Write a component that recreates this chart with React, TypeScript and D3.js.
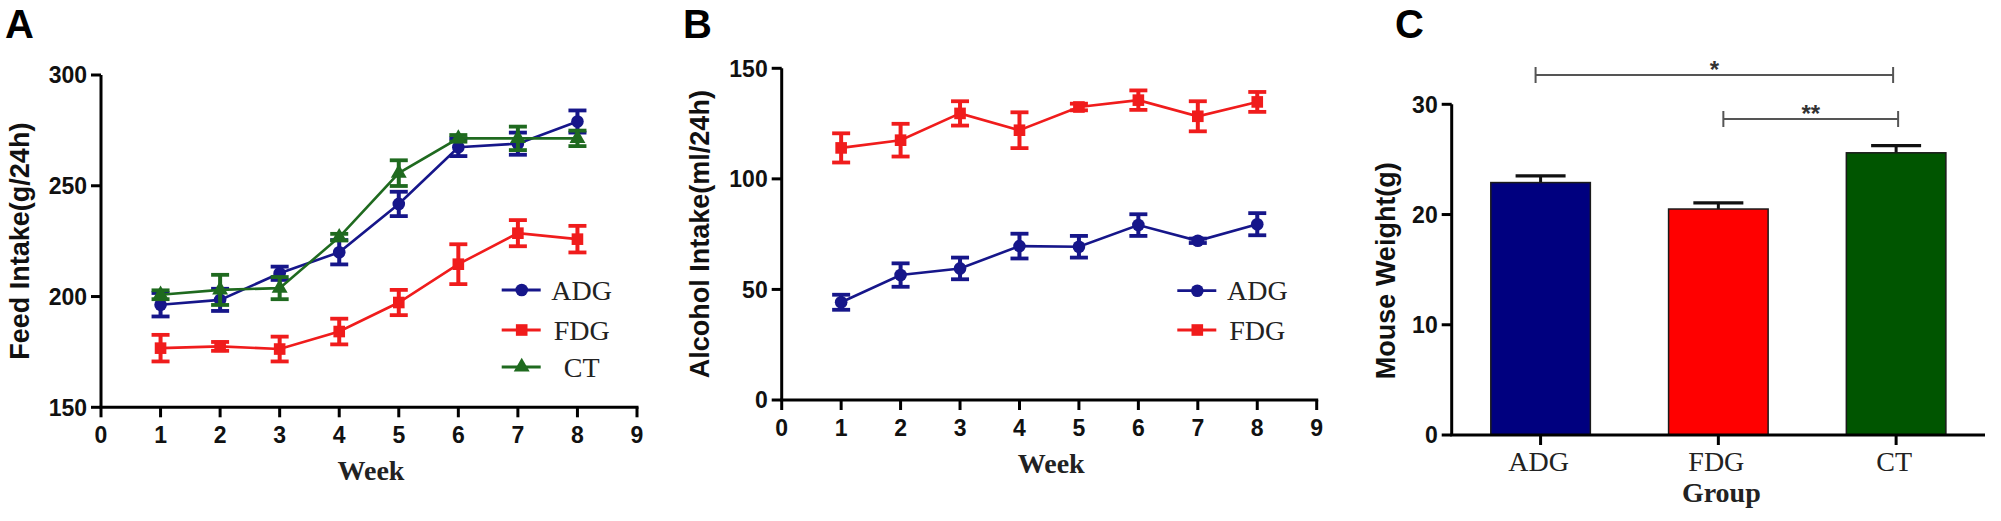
import React from 'react';
import * as d3 from 'd3';

// ---------- data ----------
const weeks = [1, 2, 3, 4, 5, 6, 7, 8];
const weekTicks = [0, 1, 2, 3, 4, 5, 6, 7, 8, 9];

const feedADG = [196.3, 198.5, 210.5, 220, 241.8, 267.4, 269, 279];
const feedADGErr = [5.3, 5, 3, 5.5, 5.5, 4, 5, 5];
const feedFDG = [176.7, 177.5, 176.3, 184.2, 197.3, 214.6, 228.6, 225.9];
const feedFDGErr = [6, 2, 5.6, 5.8, 5.7, 9, 5.9, 6];
const feedCT = [200.8, 203, 203.8, 226.8, 255.7, 271.4, 271.4, 271.4];
const feedCTErr = [2, 6.8, 5, 1.5, 5.8, 1.5, 5.3, 3.5];
const feedTicks = [150, 200, 250, 300];

const alcADG = [44.2, 56.5, 59.5, 69.6, 69.3, 79.1, 72, 79.5];
const alcADGErr = [3.4, 5.3, 4.9, 5.6, 4.9, 4.9, 1, 5];
const alcFDG = [114, 117.5, 129.6, 122, 132.5, 135.6, 128.3, 134.8];
const alcFDGErr = [6.6, 7.4, 5.5, 8.1, 1.5, 4.4, 6.8, 4.5];
const alcTicks = [0, 50, 100, 150];

const groups = ['ADG', 'FDG', 'CT'];
const weightMean = [22.9, 20.5, 25.6];
const weightErr = [0.6, 0.55, 0.65];
const weightTicks = [0, 10, 20, 30];

// ---------- styles ----------
const SANS = 'Liberation Sans, Arial, Helvetica, sans-serif';
const SERIF = 'Liberation Serif, Times New Roman, serif';
const BLUE = '#16168a';
const RED = '#f01c1c';
const GREEN = '#1f6a1f';
const BAR_COLORS = ['#00007f', '#ff0000', '#005500'];

type Shape = 'circle' | 'square' | 'triangle';
type Series = { name: string; values: number[]; errs: number[]; color: string; shape: Shape };

function symbolPath(shape: Shape) {
  const t = shape === 'circle' ? d3.symbolCircle : shape === 'square' ? d3.symbolSquare : d3.symbolTriangle;
  const size = shape === 'circle' ? 125 : shape === 'square' ? 135 : 110;
  return d3.symbol().type(t).size(size)() as string;
}

function LinePanel(props: {
  x0: number; x1: number; yTop: number; yBot: number; domain: [number, number];
  yTicks: number[]; series: Series[]; title: string; letter: string; letterX: number;
  titleX: number; legendX: number; legendY: number[];
}) {
  const { x0, x1, yTop, yBot, domain, yTicks, series, title, letter, letterX, titleX, legendX, legendY } = props;
  const x = d3.scaleLinear().domain([0, 9]).range([x0, x1]);
  const y = d3.scaleLinear().domain(domain).range([yBot, yTop]);
  const line = d3.line<number>().x((_, i) => x(weeks[i])).y((v) => y(v));
  const cap = 9;
  return (
    <g>
      <text x={letterX} y={38} fontFamily={SANS} fontWeight="bold" fontSize={40} fill="#000">{letter}</text>
      <line x1={x0} x2={x0} y1={yTop} y2={yBot} stroke="#000" strokeWidth={3} />
      <line x1={x0 - 1.5} x2={x1 + 1.5} y1={yBot} y2={yBot} stroke="#000" strokeWidth={3} />
      {yTicks.map((t) => (
        <g key={'y' + t}>
          <line x1={x0 - 10} x2={x0} y1={y(t)} y2={y(t)} stroke="#000" strokeWidth={3} />
          <text x={x0 - 14} y={y(t) + 8.3} textAnchor="end" fontFamily={SANS} fontWeight="bold" fontSize={23} fill="#111">{t}</text>
        </g>
      ))}
      {weekTicks.map((t) => (
        <g key={'x' + t}>
          <line x1={x(t)} x2={x(t)} y1={yBot} y2={yBot + 10} stroke="#000" strokeWidth={3} />
          <text x={x(t)} y={yBot + 36} textAnchor="middle" fontFamily={SANS} fontWeight="bold" fontSize={23} fill="#111">{t}</text>
        </g>
      ))}
      <text x={(x0 + x1) / 2 + 2} y={yBot + 73} textAnchor="middle" fontFamily={SERIF} fontWeight="bold" fontSize={28} fill="#222">Week</text>
      <text transform={`translate(${titleX},${(yTop + yBot) / 2}) rotate(-90)`} textAnchor="middle" fontFamily={SANS} fontWeight="bold" fontSize={27} fill="#111">{title}</text>
      {series.map((s) => (
        <g key={s.name}>
          <path d={line(s.values) as string} fill="none" stroke={s.color} strokeWidth={2.6} />
          {s.values.map((v, i) => {
            const cx = x(weeks[i]);
            const hi = y(v + s.errs[i]);
            const lo = y(v - s.errs[i]);
            return (
              <g key={i}>
                <line x1={cx} x2={cx} y1={hi} y2={lo} stroke={s.color} strokeWidth={4} />
                <line x1={cx - cap} x2={cx + cap} y1={hi} y2={hi} stroke={s.color} strokeWidth={3.8} />
                <line x1={cx - cap} x2={cx + cap} y1={lo} y2={lo} stroke={s.color} strokeWidth={3.8} />
                <path d={symbolPath(s.shape)} transform={`translate(${cx},${y(v)})`} fill={s.color} />
              </g>
            );
          })}
        </g>
      ))}
      {series.map((s, i) => (
        <g key={'lg' + s.name}>
          <line x1={legendX - 20} x2={legendX + 19} y1={legendY[i]} y2={legendY[i]} stroke={s.color} strokeWidth={2.8} />
          <path d={symbolPath(s.shape)} transform={`translate(${legendX},${legendY[i]})`} fill={s.color} />
          <text x={legendX + 60} y={legendY[i] + 9.5} textAnchor="middle" fontFamily={SERIF} fontSize={28} fill="#222">{s.name}</text>
        </g>
      ))}
    </g>
  );
}

function BarPanel() {
  const x0 = 1451.7, x1 = 1985, yTop = 104.3, yBot = 435;
  const x = d3.scaleBand<string>().domain(groups).range([x0, x1]).paddingInner(0.44).paddingOuter(0.22);
  const y = d3.scaleLinear().domain([0, 30]).range([yBot, yTop]);
  const bw = x.bandwidth();
  const c = (g: string) => (x(g) as number) + bw / 2;
  return (
    <g>
      <text x={1395} y={38} fontFamily={SANS} fontWeight="bold" fontSize={40} fill="#000">C</text>
      {groups.map((g, i) => {
        const top = y(weightMean[i]);
        const et = y(weightMean[i] + weightErr[i]);
        return (
          <g key={g}>
            <line x1={c(g)} x2={c(g)} y1={top} y2={et} stroke="#111" strokeWidth={3} />
            <line x1={c(g) - 25} x2={c(g) + 25} y1={et} y2={et} stroke="#111" strokeWidth={3.2} />
            <rect x={x(g)} y={top} width={bw} height={yBot - top} fill={BAR_COLORS[i]} stroke="#1a1a1a" strokeWidth={1.5} />
          </g>
        );
      })}
      <line x1={x0} x2={x0} y1={yTop} y2={yBot} stroke="#000" strokeWidth={3} />
      <line x1={x0 - 1.5} x2={x1} y1={yBot} y2={yBot} stroke="#000" strokeWidth={3} />
      {weightTicks.map((t) => (
        <g key={t}>
          <line x1={x0 - 10} x2={x0} y1={y(t)} y2={y(t)} stroke="#000" strokeWidth={3} />
          <text x={x0 - 14} y={y(t) + 8.3} textAnchor="end" fontFamily={SANS} fontWeight="bold" fontSize={23} fill="#111">{t}</text>
        </g>
      ))}
      {groups.map((g) => (
        <g key={'t' + g}>
          <line x1={c(g)} x2={c(g)} y1={yBot} y2={yBot + 10} stroke="#000" strokeWidth={3} />
          <text x={c(g) - 2} y={yBot + 36} textAnchor="middle" fontFamily={SERIF} fontSize={28} fill="#222">{g}</text>
        </g>
      ))}
      <text x={(x0 + x1) / 2 + 3} y={502} textAnchor="middle" fontFamily={SERIF} fontWeight="bold" fontSize={28} fill="#222">Group</text>
      <text transform={`translate(1395,${(yTop + yBot) / 2 + 1}) rotate(-90)`} textAnchor="middle" fontFamily={SANS} fontWeight="bold" fontSize={27} fill="#111">Mouse Weight(g)</text>
      {[
        { a: 'ADG', b: 'CT', ly: 75, da: -5, db: -3, label: '*' },
        { a: 'FDG', b: 'CT', ly: 119, da: 5, db: 2, label: '**' },
      ].map((s) => {
        const xa = c(s.a) + s.da, xb = c(s.b) + s.db;
        return (
          <g key={s.label}>
            <line x1={xa} x2={xb} y1={s.ly} y2={s.ly} stroke="#555" strokeWidth={2} />
            <line x1={xa} x2={xa} y1={s.ly - 8} y2={s.ly + 8} stroke="#555" strokeWidth={2} />
            <line x1={xb} x2={xb} y1={s.ly - 8} y2={s.ly + 8} stroke="#555" strokeWidth={2} />
            <text x={(xa + xb) / 2} y={s.ly + 3} textAnchor="middle" fontFamily={SANS} fontWeight="bold" fontSize={24} fill="#333">{s.label}</text>
          </g>
        );
      })}
    </g>
  );
}

export default function App() {
  const feedSeries: Series[] = [
    { name: 'ADG', values: feedADG, errs: feedADGErr, color: BLUE, shape: 'circle' },
    { name: 'FDG', values: feedFDG, errs: feedFDGErr, color: RED, shape: 'square' },
    { name: 'CT', values: feedCT, errs: feedCTErr, color: GREEN, shape: 'triangle' },
  ];
  const alcSeries: Series[] = [
    { name: 'ADG', values: alcADG, errs: alcADGErr, color: BLUE, shape: 'circle' },
    { name: 'FDG', values: alcFDG, errs: alcFDGErr, color: RED, shape: 'square' },
  ];
  return (
    <svg width={2001} height={521} style={{ position: 'absolute', left: 0, top: 0, background: '#fff' }}>
      <rect x={0} y={0} width={2001} height={521} fill="#fff" />
      <LinePanel x0={101} x1={637} yTop={75} yBot={407.3} domain={[150, 300]} yTicks={feedTicks}
        series={feedSeries} title="Feed Intake(g/24h)" letter="A" letterX={5} titleX={28.5}
        legendX={521.7} legendY={[290, 330, 367]} />
      <LinePanel x0={781.7} x1={1316.7} yTop={68.3} yBot={400} domain={[0, 150]} yTicks={alcTicks}
        series={alcSeries} title="Alcohol Intake(ml/24h)" letter="B" letterX={683} titleX={708.5}
        legendX={1197.3} legendY={[290.7, 330]} />
      <BarPanel />
    </svg>
  );
}
